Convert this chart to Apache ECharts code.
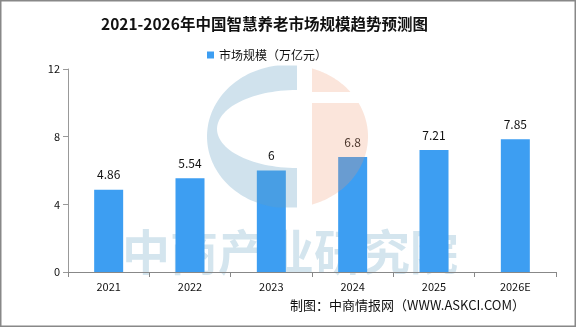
<!DOCTYPE html>
<html>
<head>
<meta charset="utf-8">
<script src="https://cdn.jsdelivr.net/npm/echarts@6/dist/echarts.min.js"></script>
<style>
  html, body { margin: 0; padding: 0; background: #fff; }
  #chart { width: 576px; height: 327px; }
</style>
</head>
<body>
<div id="chart"></div>
<script>
const years = ['2021', '2022', '2023', '2024', '2025', '2026E'];
const marketSize = [4.86, 5.54, 6, 6.8, 7.21, 7.85];
const seriesName = '市场规模（万亿元）';

const chart = echarts.init(document.getElementById('chart'));
const cjk = '"Noto Sans CJK SC", "Noto Sans", sans-serif';

// watermark logo (decoration only), drawn on top with transparency
const logoBlue = 'rgba(100,160,195,0.3)';
const logoPink = 'rgba(240,150,110,0.25)';
const cx = 287.5, cy = 136.5, rx = 80.5, ry = 71.5;

function ellipsePts(x0, y0, ax, ay, a1, a2, n) {
  const pts = [];
  for (let i = 0; i <= n; i++) {
    const a = a1 + (a2 - a1) * i / n;
    pts.push([x0 + ax * Math.cos(a), y0 + ay * Math.sin(a)]);
  }
  return pts;
}
// blue "C": outer left side with an inner hole
const bluePts = [[297, 65.5]]
  .concat(ellipsePts(cx, cy, rx, ry, -Math.PI / 2 - 0.118, -1.5 * Math.PI + 0.118, 80))
  .concat([[297, 207.5], [297, 168]])
  .concat(ellipsePts(297, 129, 80, 39, Math.PI / 2, 1.5 * Math.PI, 60))
  .concat([[297, 90]]);
// pink: right part split by a white band
const pinkTop = [[312, 68.4]]
  .concat(ellipsePts(cx, cy, rx, ry, -1.267, -0.674, 30))
  .concat([[312, 92]]);
const pinkBottom = [[312, 103]]
  .concat(ellipsePts(cx, cy, rx, ry, -0.486, 1.265, 60))
  .concat([[312, 204.6]]);

const option = {
  animation: false,
  textStyle: { fontFamily: cjk },
  title: {
    text: '2021-2026年中国智慧养老市场规模趋势预测图',
    left: 96,
    top: 11,
    textStyle: { fontSize: 15.5, fontWeight: 'bold', color: '#111', fontFamily: cjk }
  },
  legend: {
    data: [seriesName],
    top: 44,
    left: 202,
    itemWidth: 7,
    itemHeight: 7,
    itemGap: 4,
    icon: 'rect',
    textStyle: { fontSize: 12, color: '#111' }
  },
  grid: { left: 68, right: 20, top: 69, bottom: 55 },
  xAxis: {
    type: 'category',
    data: years,
    axisLine: { lineStyle: { color: '#888', width: 1 } },
    axisTick: { show: true, length: 5, lineStyle: { color: '#888' } },
    axisLabel: { color: '#111', fontSize: 11, margin: 9 }
  },
  yAxis: {
    type: 'value',
    min: 0,
    max: 12,
    interval: 4,
    splitLine: { show: false },
    axisLine: { show: true, lineStyle: { color: '#999' } },
    axisTick: { show: true, length: 5, lineStyle: { color: '#999' } },
    axisLabel: { color: '#111', fontSize: 11, margin: 8 }
  },
  graphic: [
    {
      type: 'text', x: 290, y: 228, z: -1, silent: true,
      style: { text: '中商产业研究院', fontSize: 48, fontWeight: 'bold', align: 'center',
               fill: 'rgba(100,160,195,0.28)', fontFamily: cjk }
    },
    {
      type: 'polygon', z: 100, silent: true,
      shape: { points: bluePts },
      style: { fill: logoBlue }
    },
    {
      type: 'polygon', z: 100, silent: true,
      shape: { points: pinkTop },
      style: { fill: logoPink }
    },
    {
      type: 'polygon', z: 100, silent: true,
      shape: { points: pinkBottom },
      style: { fill: logoPink }
    },
    {
      type: 'text', x: 525, y: 299, silent: true,
      style: { text: '制图：中商情报网（WWW.ASKCI.COM）', fontSize: 13, fill: '#111',
               align: 'right', fontFamily: cjk }
    },
    {
      type: 'rect', silent: true,
      shape: { x: 0.75, y: 0.75, width: 574.5, height: 325.5 },
      style: { fill: 'none', stroke: '#888', lineWidth: 1.5 }
    }
  ],
  series: [
    {
      name: seriesName,
      type: 'bar',
      data: marketSize,
      barWidth: 29,
      itemStyle: { color: '#3d9ef2' },
      label: {
        show: true,
        position: 'top',
        distance: 9,
        color: '#111',
        fontSize: 12
      }
    }
  ]
};

chart.setOption(option);
</script>
</body>
</html>
